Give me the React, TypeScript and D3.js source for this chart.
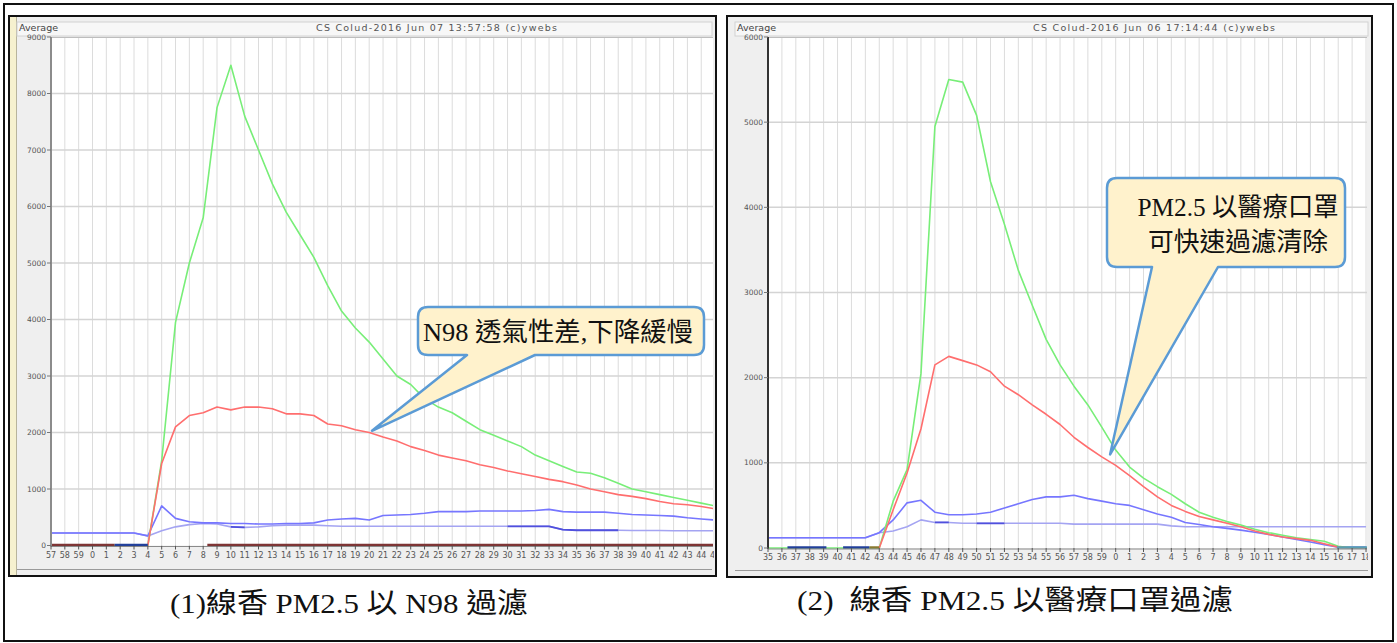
import React from 'react';
import * as d3 from 'd3';

// ---------- LEFT CHART DATA (N98) ----------
const leftXLabels = ["57","58","59","0","1","2","3","4","5","6","7","8","9","10","11","12","13","14","15","16","17","18","19","20","21","22","23","24","25","26","27","28","29","30","31","32","33","34","35","36","37","38","39","40","41","42","43","44","45"];
const leftYTicks = [0,1000,2000,3000,4000,5000,6000,7000,8000,9000];
const leftGreen = [null,null,null,null,0,0,0,0,1500,3950,5000,5800,7750,8500,7600,7000,6400,5900,5500,5100,4600,4150,3850,3600,3300,3000,2850,2600,2450,2350,2200,2050,1950,1850,1750,1600,1500,1400,1300,1280,1200,1100,1000,950,900,850,800,750,700];
const leftRed = [null,null,null,null,null,null,null,0,1450,2100,2300,2350,2450,2400,2450,2450,2420,2330,2330,2300,2150,2120,2050,2000,1920,1850,1750,1680,1600,1550,1500,1430,1380,1320,1270,1220,1170,1130,1070,1000,950,900,870,830,780,740,720,690,650];
const leftBlueA = [220,220,220,220,220,220,220,170,700,480,420,400,400,390,390,380,380,390,390,400,450,470,480,450,530,540,550,570,600,600,600,610,610,610,610,620,640,600,590,590,590,570,550,540,530,520,490,470,450];
const leftBlueB = [220,220,220,220,220,220,220,170,260,330,370,390,380,330,320,330,350,360,360,360,350,340,340,340,340,340,340,340,340,340,340,340,340,340,340,340,340,280,270,270,270,270,265,265,265,260,260,260,260];
const leftBlueDark = [null,null,null,null,null,null,null,null,null,null,null,null,null,330,320,null,null,null,null,null,null,null,null,null,null,null,null,null,null,null,null,null,null,340,340,340,340,280,270,270,270,270,null,null,null,null,null,null,null];
const leftBrownFrom = [0, 11.3];
const leftBrownTo = [4.6, 47.85];
const leftNavyFrom = [4.6];
const leftNavyTo = [7.0];

// ---------- RIGHT CHART DATA (medical mask) ----------
const rightXLabels = ["35","36","37","38","39","40","41","42","43","44","45","46","47","48","49","50","51","52","53","54","55","56","57","58","59","0","1","2","3","4","5","6","7","8","9","10","11","12","13","14","15","16","17","18"];
const rightYTicks = [0,1000,2000,3000,4000,5000,6000];
const rightGreen = [0,0,0,0,0,0,0,0,0,550,920,2050,4950,5500,5470,5080,4300,3800,3260,2850,2450,2150,1900,1680,1420,1150,950,820,720,630,520,420,360,310,270,220,180,150,120,100,80,20,0,0];
const rightRed = [null,null,null,null,null,null,null,null,0,450,880,1400,2150,2250,2200,2150,2070,1900,1800,1680,1570,1450,1300,1180,1070,970,850,720,600,500,430,370,330,290,250,200,160,130,110,90,50,10,0,0];
const rightBlueA = [120,120,120,120,120,120,120,120,180,330,530,560,420,390,390,400,420,470,520,570,600,600,620,580,550,520,500,450,400,360,300,275,250,230,210,185,160,130,100,70,40,10,10,10];
const rightBlueB = [120,120,120,120,120,120,120,120,180,200,250,330,300,300,290,290,290,290,290,290,290,290,280,280,280,280,280,280,280,260,250,250,250,250,250,250,250,250,250,250,250,250,250,250];
const rightBlueDark = [null,null,null,null,null,null,null,null,null,null,null,null,300,300,null,290,290,290,null,null,null,null,null,null,null,null,null,null,null,null,null,null,null,null,null,null,null,null,null,null,null,null,null,null];
const rightNavyFrom = [1.4, 5.4];
const rightNavyTo = [4.2, 7.3];
const rightTealFrom = [40.9];
const rightTealTo = [43.07];
const rightOliveFrom = [7.3];
const rightOliveTo = [8.0];

const GREEN = '#78ee78';
const RED = '#ff6e6e';
const BLUE_A = '#7676ff';
const BLUE_B = '#a4a4f2';
const BLUE_DARK = '#5050dd';

type Seg = { from: number[]; to: number[]; color: string };
type Cfg = {
  id: string;
  frame: { x: number; y: number; w: number; h: number };
  plot: { x0: number; x1: number; y0: number; y1: number };
  xMax: number;
  yMax: number;
  yTicks: number[];
  xLabels: string[];
  title: string;
  titleX: number;
  titleW: number;
  series: { data: (number | null)[]; color: string; width: number }[];
  zeroSegs: Seg[];
  axisColor: string;
  beige?: boolean;
  callout: { rx: number; ry: number; rw: number; rh: number; b1: number; b2: number; tipI: number; tipV: number; lines: string[]; lineY: number[]; textX: number; textW: number[] };
};

const calloutPath = (c: Cfg['callout'], tx: number, ty: number) => {
  const r = 10;
  const { rx, ry, rw, rh, b1, b2 } = c;
  return `M${rx + r},${ry} H${rx + rw - r} Q${rx + rw},${ry} ${rx + rw},${ry + r} V${ry + rh - r} Q${rx + rw},${ry + rh} ${rx + rw - r},${ry + rh} H${b2} L${tx},${ty} L${b1},${ry + rh} H${rx + r} Q${rx},${ry + rh} ${rx},${ry + rh - r} V${ry + r} Q${rx},${ry} ${rx + r},${ry} Z`;
};

const serif = { fontFamily: "'Liberation Serif', 'Noto Sans CJK TC', serif" };

function Chart({ cfg }: { cfg: Cfg }) {
  const { plot, frame } = cfg;
  const x = d3.scaleLinear().domain([0, cfg.xMax]).range([plot.x0, plot.x1]);
  const y = d3.scaleLinear().domain([0, cfg.yMax]).range([plot.y1, plot.y0]);
  const line = d3
    .line<number | null>()
    .defined((d) => d != null)
    .x((_d, i) => x(i))
    .y((d) => y(d as number));
  const small = { fontFamily: 'DejaVu Sans, sans-serif' };
  const tx = x(cfg.callout.tipI);
  const ty = y(cfg.callout.tipV);
  return (
    <g>
      <defs>
        <clipPath id={`clip-${cfg.id}`}>
          <rect x={plot.x0} y={plot.y0 - 1} width={plot.x1 - plot.x0} height={plot.y1 - plot.y0 + 3} />
        </clipPath>
        <clipPath id={`clipx-${cfg.id}`}>
          <rect x={frame.x} y={plot.y1} width={plot.x1 - frame.x + 1} height={30} />
        </clipPath>
      </defs>
      <rect x={frame.x} y={frame.y} width={frame.w} height={frame.h} fill="#efefef" />
      {cfg.beige && <rect x={frame.x + 1} y={frame.y + 1} width={6} height={frame.h - 2} fill="#f6f1cf" />}
      {cfg.beige && <line x1={frame.x + 7.5} x2={frame.x + 7.5} y1={frame.y + 1} y2={frame.y + frame.h - 1} stroke="#b8b49c" />}
      <rect x={frame.x + 8} y={frame.y + 6} width={frame.w - 12} height={14} fill="#f7f7f7" stroke="#d2d2d2" />
      <line x1={frame.x + 8} x2={frame.x + frame.w - 4} y1={frame.y + frame.h - 6.5} y2={frame.y + frame.h - 6.5} stroke="#9a9a9a" />
      <text x={frame.x + 10} y={frame.y + 14.5} fontSize={9.5} fill="#444" style={small}>Average</text>
      <text x={cfg.titleX} y={frame.y + 14.5} fontSize={9.5} fill="#555" style={small} textLength={cfg.titleW} lengthAdjust="spacing">{cfg.title}</text>
      <rect x={plot.x0} y={plot.y0} width={plot.x1 - plot.x0} height={plot.y1 - plot.y0} fill="#fff" />
      {cfg.xLabels.map((_l, i) =>
        x(i) > plot.x0 + 1 && x(i) < plot.x1 ? (
          <line key={'vg' + i} x1={x(i)} x2={x(i)} y1={plot.y0} y2={plot.y1} stroke="#dcdcdc" strokeWidth={1} />
        ) : null
      )}
      {cfg.yTicks.map((t) =>
        t > 0 && t < cfg.yMax ? (
          <line key={'hg' + t} x1={plot.x0} x2={plot.x1} y1={y(t)} y2={y(t)} stroke="#d4d4d4" strokeWidth={1.5} />
        ) : null
      )}
      <line x1={plot.x0} x2={plot.x1} y1={plot.y0 + 0.5} y2={plot.y0 + 0.5} stroke="#bdbdbd" />
      <g clipPath={`url(#clip-${cfg.id})`}>
        {cfg.series.map((s, k) => (
          <path key={'s' + k} d={line(s.data) || ''} fill="none" stroke={s.color} strokeWidth={s.width} strokeLinejoin="round" />
        ))}
        {cfg.zeroSegs.map((z, k) =>
          z.from.map((f, j) => (
            <line key={'z' + k + '-' + j} x1={x(f)} x2={x(z.to[j])} y1={y(0) - 0.5} y2={y(0) - 0.5} stroke={z.color} strokeWidth={2.5} />
          ))
        )}
      </g>
      <line x1={plot.x0} x2={plot.x0} y1={plot.y0} y2={plot.y1 + 1} stroke={cfg.axisColor} strokeWidth={2} />
      <line x1={plot.x0} x2={plot.x1} y1={plot.y1 + 1} y2={plot.y1 + 1} stroke="#8a8a8a" strokeWidth={1} />
      {cfg.yTicks.map((t) => (
        <g key={'yt' + t}>
          <line x1={plot.x0 - 4} x2={plot.x0} y1={y(t)} y2={y(t)} stroke="#777" />
          <text x={plot.x0 - 5} y={y(t) + 2.5} fontSize={7.5} textAnchor="end" fill="#555" style={small}>{t}</text>
        </g>
      ))}
      <g clipPath={`url(#clipx-${cfg.id})`}>
        {cfg.xLabels.map((l, i) => (
          <g key={'xt' + i}>
            <line x1={x(i)} x2={x(i)} y1={plot.y1} y2={plot.y1 + 4} stroke="#555" />
            <text x={x(i)} y={plot.y1 + 12} fontSize={8} textAnchor="middle" fill="#555" style={small}>{l}</text>
          </g>
        ))}
      </g>
      <rect x={frame.x} y={frame.y} width={frame.w} height={frame.h} fill="none" stroke="#111" strokeWidth={2} />
      <path d={calloutPath(cfg.callout, tx, ty)} fill="#fff2cc" stroke="#5b9bd5" strokeWidth={2.5} strokeLinejoin="round" />
      {cfg.callout.lines.map((ln, k) => (
        <text key={'cl' + k} x={cfg.callout.textX} y={cfg.callout.lineY[k]} fontSize={26} textAnchor="middle" fill="#111" style={serif} textLength={cfg.callout.textW[k]} lengthAdjust="spacingAndGlyphs">
          {ln}
        </text>
      ))}
    </g>
  );
}

const leftCfg: Cfg = {
  id: 'L',
  frame: { x: 9, y: 16, w: 707, h: 560 },
  plot: { x0: 51, x1: 713, y0: 37, y1: 545.5 },
  xMax: 47.85,
  yMax: 9000,
  yTicks: leftYTicks,
  xLabels: leftXLabels,
  title: 'CS Colud-2016 Jun 07 13:57:58 (c)ywebs',
  titleX: 316,
  titleW: 241,
  series: [
    { data: leftBlueB, color: BLUE_B, width: 1.6 },
    { data: leftBlueA, color: BLUE_A, width: 1.6 },
    { data: leftBlueDark, color: BLUE_DARK, width: 1.8 },
    { data: leftGreen, color: GREEN, width: 1.6 },
    { data: leftRed, color: RED, width: 1.6 },
  ],
  zeroSegs: [
    { from: leftBrownFrom, to: leftBrownTo, color: '#7e3434' },
    { from: leftNavyFrom, to: leftNavyTo, color: '#22409a' },
  ],
  axisColor: '#8c8c8c',
  beige: true,
  callout: { rx: 418, ry: 307, rw: 286, rh: 48, b1: 467, b2: 535, tipI: 23.2, tipV: 2030, lines: ['N98 透氣性差,下降緩慢'], lineY: [341], textX: 558, textW: [270] },
};

const rightCfg: Cfg = {
  id: 'R',
  frame: { x: 727, y: 16, w: 645, h: 561 },
  plot: { x0: 768, x1: 1367, y0: 37, y1: 548 },
  xMax: 43.07,
  yMax: 6000,
  yTicks: rightYTicks,
  xLabels: rightXLabels,
  title: 'CS Colud-2016 Jun 06 17:14:44 (c)ywebs',
  titleX: 1033,
  titleW: 242,
  series: [
    { data: rightBlueB, color: BLUE_B, width: 1.6 },
    { data: rightBlueA, color: BLUE_A, width: 1.6 },
    { data: rightBlueDark, color: BLUE_DARK, width: 1.8 },
    { data: rightGreen, color: GREEN, width: 1.6 },
    { data: rightRed, color: RED, width: 1.6 },
  ],
  zeroSegs: [
    { from: rightNavyFrom, to: rightNavyTo, color: '#22409a' },
    { from: rightOliveFrom, to: rightOliveTo, color: '#8a7a30' },
    { from: rightTealFrom, to: rightTealTo, color: '#5a9fb0' },
  ],
  axisColor: '#333',
  callout: { rx: 1107, ry: 178, rw: 238, rh: 89, b1: 1152, b2: 1218, tipI: 24.6, tipV: 1100, lines: ['PM2.5 以醫療口罩', '可快速過濾清除'], lineY: [216, 251], textX: 1238, textW: [201, 180] },
};

const captions = ['(1)線香 PM2.5 以 N98 過濾', '(2)  線香 PM2.5 以醫療口罩過濾'];
const captionX = [349, 1015];
const captionY = [613, 610];
const captionW = [358, 436];

export default function App() {
  return (
    <svg width={1397} height={643} style={{ position: 'absolute', left: 0, top: 0, background: '#fff' }}>
      <rect x={0} y={0} width={1397} height={643} fill="#fff" />
      <rect x={4} y={4} width={1389} height={637} fill="none" stroke="#111" strokeWidth={2} />
      <Chart cfg={leftCfg} />
      <Chart cfg={rightCfg} />
      {captions.map((c, i) => (
        <text key={c} x={captionX[i]} y={captionY[i]} fontSize={28} textAnchor="middle" fill="#111" style={{ ...serif, whiteSpace: 'pre' }} textLength={captionW[i]} lengthAdjust="spacingAndGlyphs">
          {c}
        </text>
      ))}
    </svg>
  );
}
